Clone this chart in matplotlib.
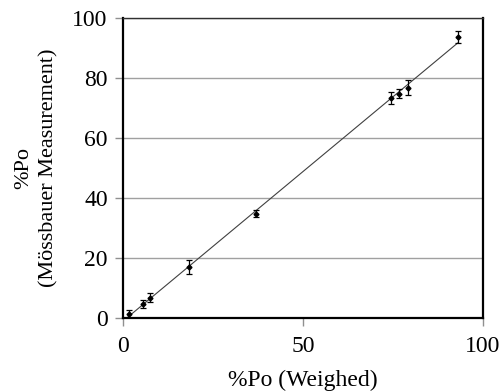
import numpy as np
import matplotlib
matplotlib.use("Agg")
import matplotlib.pyplot as plt

plt.rcParams['font.family'] = ['Liberation Serif', 'DejaVu Serif']

# %Po weighed vs %Po from Mossbauer measurement
weighed = [1.8, 5.6, 7.5, 18.3, 37.0, 74.6, 76.6, 79.3, 93.0]
measured = [1.3, 4.7, 6.7, 17.0, 34.8, 73.2, 74.8, 76.8, 93.6]
errors = [1.3, 1.3, 1.5, 2.2, 1.2, 2.0, 1.6, 2.4, 2.0]

fig = plt.figure(figsize=(5.04, 3.92), dpi=100)
ax = fig.add_axes([0.244, 0.189, 0.714, 0.765])

# linear trend line across the data range
slope, icpt = np.polyfit(weighed, measured, 1)
xs = np.array([min(weighed) - 0.8, max(weighed)])
ax.plot(xs, slope * xs + icpt, color='#404040', lw=0.8, zorder=2)

ax.errorbar(weighed, measured, yerr=errors, fmt='D', ms=2.5, color='black',
            ecolor='black', elinewidth=0.9, capsize=2.5, capthick=0.9, zorder=3)

ax.set_xlim(0, 100)
ax.set_ylim(0, 100)
ax.set_xticks([0, 50, 100])
ax.set_yticks([0, 20, 40, 60, 80, 100])
ax.yaxis.grid(True, color='#a0a0a0', lw=1.0)
ax.set_axisbelow(True)

for s in ['left', 'bottom', 'right']:
    ax.spines[s].set_linewidth(1.6)
    ax.spines[s].set_color('black')
ax.spines['top'].set_linewidth(1.0)
ax.spines['top'].set_color('#303030')

ax.tick_params(axis='both', direction='out', length=6, width=1, color='#909090',
               labelsize=17, pad=5)
ax.tick_params(axis='x', pad=7)

ax.set_xlabel('%Po (Weighed)', fontsize=17, labelpad=9)
ax.set_ylabel('%Po\n(Mössbauer Measurement)', fontsize=16, labelpad=10,
              linespacing=1.4)

fig.savefig('out.png', dpi=100)
